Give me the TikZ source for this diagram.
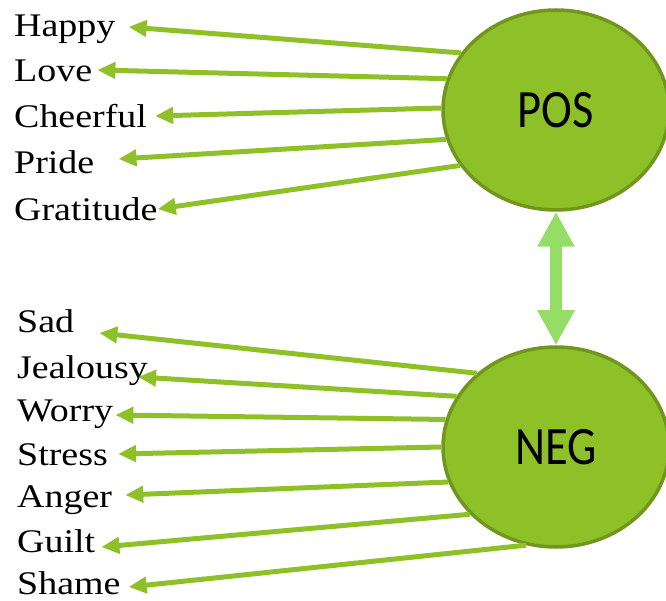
\documentclass[tikz,border=0pt]{standalone}
\usepackage{fontspec}
\setmainfont{Liberation Serif}[FakeStretch=1.15]
\newfontfamily\moodfont{Carlito}[FakeStretch=0.86]
\usetikzlibrary{arrows.meta,shapes.geometric}
\definecolor{leafgreen}{RGB}{142,192,39}
\definecolor{rimgreen}{RGB}{112,150,30}
\definecolor{palegreen}{RGB}{148,222,102}

\begin{document}
\begin{tikzpicture}[x=1pt,y=-1pt,
    emotion/.style={anchor=base west, inner sep=0pt, font=\fontsize{33}{33}\selectfont},
    mood/.style={ellipse, draw=rimgreen, line width=3.5pt, fill=leafgreen,
      minimum width=226pt, minimum height=200pt, font=\moodfont\fontsize{54}{54}\selectfont},
    link/.style={leafgreen, line width=5pt, -{Triangle[width=16pt,length=18pt]}},
    twoway/.style={palegreen, line width=12pt,
      {Triangle[width=35pt,length=35pt]}-{Triangle[width=35pt,length=35pt]}}]
  \useasboundingbox (0,0) rectangle (666,601);
  \clip (0,0) rectangle (666,601);

  % Draw the two moods
  \node[mood] (pos) at (556,110) {POS};
  \node[mood] (neg) at (556,447) {NEG};

  % Positive words
  \node[emotion] (happy) at (14,37) {Happy};
  \node[emotion] (love) at (14,82) {Love};
  \node[emotion] (cheerful) at (14,128) {Cheerful};
  \node[emotion] (pride) at (14,174) {Pride};
  \node[emotion] (gratitude) at (14,221) {Gratitude};

  % Negative words
  \node[emotion] (sad) at (17,333) {Sad};
  \node[emotion] (jealousy) at (17,378) {Jealousy};
  \node[emotion] (worry) at (17,421) {Worry};
  \node[emotion] (stress) at (17,465) {Stress};
  \node[emotion] (anger) at (17,507) {Anger};
  \node[emotion] (guilt) at (17,552) {Guilt};
  \node[emotion] (shame) at (17,594) {Shame};

  % Arrows out of POS
  \draw[link] (pos.149) -- ([shift={(13,-10)}]happy.base east);
  \draw[link] (pos.164) -- ([shift={(5,-12)}]love.base east);
  \draw[link] (pos.179) -- ([shift={(8,-12)}]cheerful.base east);
  \draw[link] (pos.195) -- ([shift={(24,-15)}]pride.base east);
  \draw[link] (pos.210) -- ([shift={(0,-12)}]gratitude.base east);

  % Arrows out of NEG
  \draw[link] (neg.137) -- ([shift={(25,0)}]sad.base east);
  \draw[link] (neg.153) -- ([shift={(-10,-1)}]jealousy.base east);
  \draw[link] (neg.166) -- ([shift={(2,-6)}]worry.base east);
  \draw[link] (neg.180) -- ([shift={(10,-11)}]stress.base east);
  \draw[link] (neg.198) -- ([shift={(13,-12)}]anger.base east);
  \draw[link] (neg.218) -- ([shift={(6,-5)}]guilt.base east);
  \draw[link] (neg.253) -- ([shift={(8,-7)}]shame.base east);

  % POS <-> NEG
  \draw[twoway] (pos.south) -- (neg.north);
\end{tikzpicture}
\end{document}
